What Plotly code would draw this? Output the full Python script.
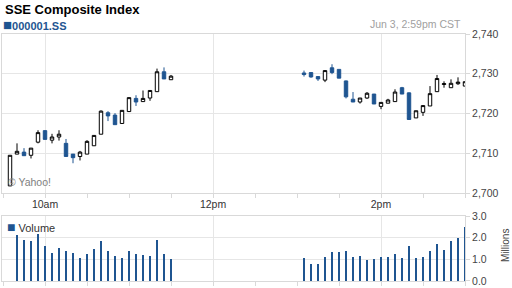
import pandas as pd
import plotly.graph_objects as go

DAY = "2013-06-03"

# --- data -------------------------------------------------------------
am_times = pd.date_range(f"{DAY} 09:35", f"{DAY} 11:30", freq="5min")
pm_times = pd.date_range(f"{DAY} 13:05", f"{DAY} 15:00", freq="5min")
times = list(am_times) + list(pm_times)

opens = [2701.8, 2709.8, 2710.3, 2709.5, 2712.8, 2715.7, 2713.3, 2714.1, 2712.5, 2709.8, 2709.2, 2709.8,
         2711.9, 2714.8, 2720.2, 2719.6, 2717.5, 2720.5, 2723.8, 2723.0, 2723.9, 2725.5, 2730.5, 2728.5,
         2730.2, 2730.3, 2729.3, 2728.4, 2731.5, 2731.1, 2728.2, 2723.6, 2722.9, 2723.9, 2724.9, 2721.8,
         2722.6, 2723.0, 2726.5, 2725.2, 2718.9, 2720.3, 2721.9, 2725.5, 2727.3, 2726.5, 2727.5, 2726.9]
highs = [2709.5, 2712.5, 2711.3, 2711.3, 2715.8, 2715.8, 2714.9, 2715.8, 2713.6, 2709.8, 2710.6, 2713.3,
         2714.5, 2720.8, 2720.6, 2720.1, 2720.8, 2724.0, 2724.6, 2725.8, 2725.8, 2731.3, 2731.6, 2729.7,
         2730.8, 2730.3, 2729.3, 2730.8, 2732.4, 2731.1, 2728.3, 2725.4, 2723.9, 2725.4, 2724.9, 2722.8,
         2723.7, 2726.1, 2726.7, 2725.3, 2720.7, 2722.0, 2726.9, 2729.7, 2728.1, 2728.6, 2729.1, 2728.0]
lows = [2701.8, 2709.8, 2709.4, 2708.7, 2712.5, 2713.5, 2712.5, 2713.2, 2709.2, 2707.5, 2708.2, 2709.8,
        2711.9, 2714.8, 2718.1, 2717.2, 2717.5, 2720.5, 2721.9, 2723.0, 2723.2, 2725.5, 2728.7, 2728.5,
        2729.3, 2729.0, 2728.2, 2727.9, 2729.9, 2728.9, 2723.8, 2722.9, 2722.5, 2723.7, 2722.4, 2721.1,
        2722.6, 2723.0, 2724.9, 2718.5, 2718.9, 2719.4, 2721.9, 2725.5, 2726.5, 2726.5, 2727.2, 2726.9]
closes = [2709.5, 2710.5, 2709.4, 2711.3, 2715.2, 2713.5, 2714.1, 2714.8, 2709.2, 2708.9, 2710.3, 2713.0,
          2714.5, 2720.6, 2719.4, 2717.2, 2720.8, 2724.0, 2722.9, 2723.8, 2725.8, 2730.5, 2728.7, 2729.4,
          2729.8, 2729.2, 2728.7, 2730.8, 2730.3, 2728.9, 2724.2, 2722.9, 2723.9, 2725.1, 2722.4, 2722.8,
          2723.4, 2725.4, 2724.9, 2718.5, 2720.7, 2722.0, 2725.0, 2728.8, 2727.5, 2727.6, 2727.9, 2728.0]

vol_times = list(am_times[1:]) + list(pm_times)
volumes = [2.12, 1.89, 1.85, 2.17, 1.62, 1.29, 1.52, 1.38, 1.29, 1.06, 1.25, 1.48, 1.85, 1.38, 1.15, 1.06,
           1.38, 1.25, 1.20, 1.15, 1.89, 1.25, 1.02,
           1.06, 0.78, 0.78, 1.11, 1.34, 1.34, 1.38, 1.11, 1.15, 0.97, 1.02, 1.11, 1.11, 1.25, 1.06, 1.62,
           1.06, 1.11, 1.38, 1.71, 1.43, 1.85, 1.98, 2.49]

tick_vals = [f"{DAY} 10:00", f"{DAY} 12:00", f"{DAY} 14:00"]
tick_text = ["10am", "12pm", "2pm"]
x_range = [f"{DAY} 09:29:17", f"{DAY} 15:00"]

BLUE = "#1f5591"
GRID = "#e6e6e6"
FRAME = "#d9d9d9"
FONT = "Liberation Sans, Arial, sans-serif"

fig = go.Figure()
fig.add_trace(go.Candlestick(
    x=times, open=opens, high=highs, low=lows, close=closes,
    increasing=dict(line=dict(color="#000000", width=1), fillcolor="#ffffff"),
    decreasing=dict(line=dict(color=BLUE, width=1), fillcolor=BLUE),
    whiskerwidth=0, xaxis="x", yaxis="y", showlegend=False, hoverinfo="skip",
))
fig.add_trace(go.Bar(
    x=vol_times, y=volumes, marker=dict(color=BLUE, line=dict(width=0)),
    width=45000, xaxis="x2", yaxis="y2", showlegend=False, hoverinfo="skip",
))

common_x = dict(
    type="date", range=x_range, showgrid=True, gridcolor=GRID, gridwidth=1,
    tickvals=tick_vals, ticktext=tick_text, ticks="outside", ticklen=4, tickcolor=FRAME,
    minor=dict(dtick=30 * 60 * 1000, tick0=f"{DAY} 09:30", ticks="outside", ticklen=4,
               tickcolor=FRAME, showgrid=False),
    showline=True, linecolor=FRAME, mirror=True, zeroline=False,
    rangeslider=dict(visible=False), fixedrange=True,
)

fig.update_layout(
    width=512, height=288,
    margin=dict(l=2, r=47, t=34, b=7),
    paper_bgcolor="#ffffff", plot_bgcolor="#ffffff",
    font=dict(family=FONT, size=10, color="#444444"),
    xaxis=dict(domain=[0, 1], anchor="y", showticklabels=True, ticklabelstandoff=-3,
               tickfont=dict(size=10.5, color="#333333"), **common_x),
    xaxis2=dict(domain=[0, 1], anchor="y2", showticklabels=False, matches="x", **common_x),
    yaxis=dict(domain=[0.356, 1], side="right", range=[2700, 2740], dtick=10, tickformat=",d",
               showgrid=True, gridcolor=GRID, ticks="outside", ticklen=4, tickcolor=FRAME,
               showline=True, linecolor=FRAME, mirror=True, zeroline=False,
               tickfont=dict(size=10.5, color="#444444"), anchor="x"),
    yaxis2=dict(domain=[0, 0.263], side="right", range=[0, 3], dtick=1, tickformat=".1f",
                showgrid=True, gridcolor=GRID, ticks="outside", ticklen=4, tickcolor=FRAME,
                showline=True, linecolor=FRAME, mirror=True, zeroline=False,
                tickfont=dict(size=10.5, color="#444444"), anchor="x2"),
    bargap=0,
)

annotations = [
    dict(text="<b>SSE Composite Index</b>", x=0.002, y=1.101, xanchor="left", yanchor="middle",
         font=dict(size=13, color="#000000")),
    dict(text=f"<span style='color:{BLUE};font-size:15px'>■</span><b style='color:{BLUE}'>000001.SS</b>",
         x=-0.002, y=1.040, xanchor="left", yanchor="middle", font=dict(size=11, color=BLUE)),
    dict(text="Jun 3, 2:59pm CST", x=0.9957, y=1.040, xanchor="right", yanchor="middle",
         font=dict(size=10.5, color="#a0a0a0")),
    dict(text="© Yahoo!", x=0.009, y=0.401, xanchor="left", yanchor="middle",
         font=dict(size=10.5, color="#808080")),
    dict(text=f"<span style='color:{BLUE};font-size:14px'>■</span> Volume", x=0.006, y=0.219,
         xanchor="left", yanchor="middle", font=dict(size=11, color="#333333")),
    dict(text="Millions", x=1.0886, y=0.142, xanchor="center", yanchor="middle", textangle=-90,
         font=dict(size=10, color="#444444")),
]
for a in annotations:
    a.update(xref="paper", yref="paper", showarrow=False)
fig.update_layout(annotations=annotations)

fig.write_html("out.html", config={"displayModeBar": False})
